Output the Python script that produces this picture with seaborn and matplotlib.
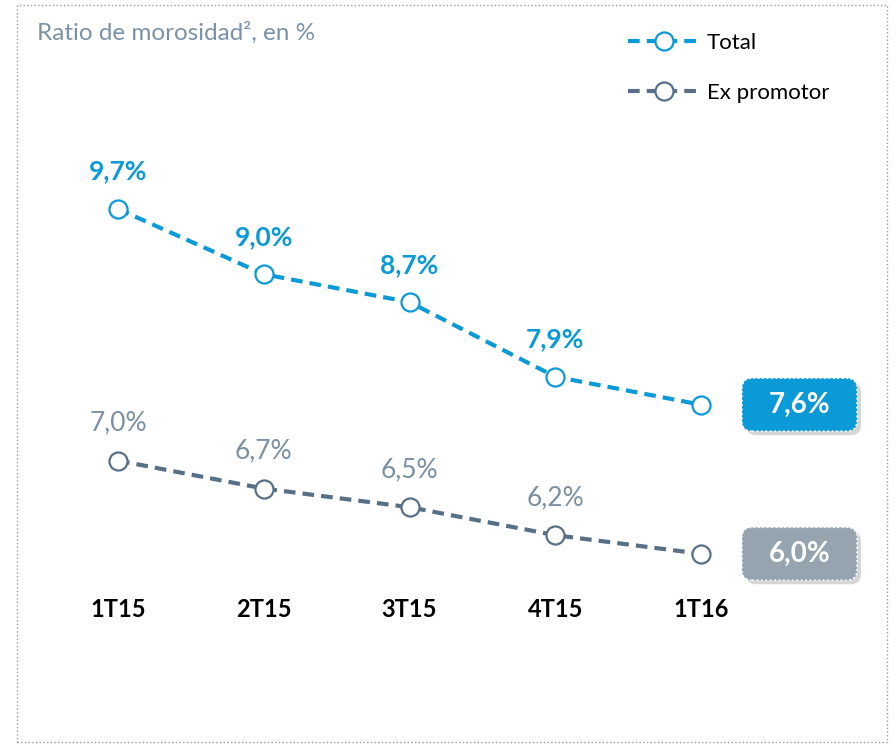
import matplotlib
matplotlib.use("Agg")
import matplotlib.pyplot as plt
import seaborn as sns
import pandas as pd
from matplotlib.patches import FancyBboxPatch, Rectangle

quarters = ["1T15", "2T15", "3T15", "4T15", "1T16"]
total = [9.7, 9.0, 8.7, 7.9, 7.6]
ex_promotor = [7.0, 6.7, 6.5, 6.2, 6.0]
total_labels = ["9,7%", "9,0%", "8,7%", "7,9%", "7,6%"]
ex_labels = ["7,0%", "6,7%", "6,5%", "6,2%", "6,0%"]
title = "Ratio de morosidad², en %"

BLUE = "#0a9ad7"
SLATE = "#587086"
GRAY_TXT = "#7b90a3"
GRAY_BOX = "#95a4ae"
TITLE_C = "#7a92a8"

sns.set_theme(style="white")
plt.rcParams["font.family"] = ["Lato", "DejaVu Sans"]

W, H = 895, 744
fig = plt.figure(figsize=(W / 100, H / 100), dpi=100)
ax_bottom_px = 590
ax = fig.add_axes([0, (H - ax_bottom_px) / H, 1, ax_bottom_px / H])

df = pd.DataFrame({
    "quarter": quarters * 2,
    "value": total + ex_promotor,
    "serie": ["Total"] * 5 + ["Ex promotor"] * 5,
})

lw = 3.0
for name, col in [("Total", BLUE), ("Ex promotor", SLATE)]:
    sub = df[df["serie"] == name]
    sns.lineplot(data=sub, x="quarter", y="value", ax=ax, color=col,
                 linewidth=lw, marker="o", markersize=13,
                 markerfacecolor="white", markeredgecolor=col,
                 markeredgewidth=1.6, label=name, sort=False)
for line in ax.get_lines():
    line.set_dashes((2.8, 1.7))

# scales: x=0 -> 118px, 145.75 px/unit ; y: 93.2 px/unit
xpx = 145.75
ax.set_xlim(-118 / xpx, (W - 118) / xpx)
a = 1113.0
ypx = 93.2
ax.set_ylim((a - ax_bottom_px) / ypx, a / ypx)

for i in range(4):
    ax.annotate(total_labels[i], (i, total[i]), xytext=(0, 27),
                textcoords="offset points", ha="center", va="center",
                color=BLUE, fontsize=19, fontweight="bold")
    ax.annotate(ex_labels[i], (i, ex_promotor[i]), xytext=(0, 27),
                textcoords="offset points", ha="center", va="center",
                color=GRAY_TXT, fontsize=19)

# end boxes
bx = (799.5 - 118) / xpx
bw = 115 / xpx
bh = 53 / ypx
for val, lab, fc in [(total[4], total_labels[4], BLUE), (ex_promotor[4], ex_labels[4], GRAY_BOX)]:
    sh = FancyBboxPatch((bx - bw / 2 + 4 / xpx, val - bh / 2 - 4 / ypx), bw, bh,
                        boxstyle="round,pad=0,rounding_size=0.07",
                        mutation_aspect=xpx / ypx, fc="#000000", ec="none",
                        alpha=0.16, zorder=4)
    ax.add_patch(sh)
    box = FancyBboxPatch((bx - bw / 2, val - bh / 2), bw, bh,
                         boxstyle="round,pad=0,rounding_size=0.07",
                         mutation_aspect=xpx / ypx, fc=fc, ec="white",
                         lw=1.2, ls=":", zorder=5)
    ax.add_patch(box)
    ax.text(bx, val, lab, ha="center", va="center", color="white",
            fontsize=20, fontweight="bold", zorder=6)

ax.set_xticks(range(len(quarters)))
ax.set_xticklabels(quarters, fontsize=17, fontweight="bold", color="black")
ax.tick_params(axis="x", length=0, pad=6)
ax.set_yticks([])
ax.set_xlabel("")
ax.set_ylabel("")
for s in ax.spines.values():
    s.set_visible(False)
ax.patch.set_alpha(0)

leg = ax.legend(loc="upper left", bbox_to_anchor=(628 / W, 1 - 33 / ax_bottom_px),
                bbox_transform=ax.transAxes, frameon=False, fontsize=16,
                handlelength=3.25, handletextpad=0.3, labelspacing=1.35,
                borderpad=0, borderaxespad=0)
for t in leg.get_texts():
    t.set_color("black")

fig.text(37 / W, 1 - 33 / H, title, ha="left", va="center", color=TITLE_C, fontsize=17.5)

fig.patches.append(Rectangle((17 / W, 1 - 742 / H), 870 / W, 737 / H,
                             transform=fig.transFigure, fill=False,
                             ec="#9a9a9a", lw=1.0, ls=":"))

fig.savefig("out.png", dpi=100)
